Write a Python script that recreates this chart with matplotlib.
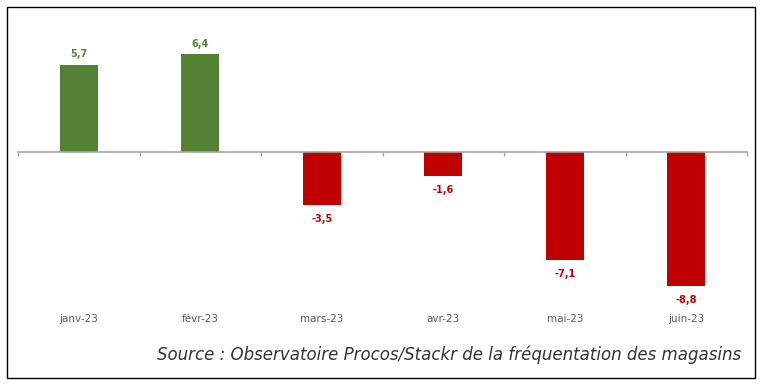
import matplotlib.pyplot as plt
from matplotlib.patches import Rectangle
from matplotlib.transforms import blended_transform_factory

months = ["janv-23", "févr-23", "mars-23", "avr-23", "mai-23", "juin-23"]
values = [5.7, 6.4, -3.5, -1.6, -7.1, -8.8]
labels = ["5,7", "6,4", "-3,5", "-1,6", "-7,1", "-8,8"]
source = "Source : Observatoire Procos/Stackr de la fréquentation des magasins"

green = "#548235"
red = "#C00000"

W, H = 768, 387
fig = plt.figure(figsize=(W / 100, H / 100), dpi=100)

# cadre extérieur
fig.patches.append(Rectangle((7 / W, 1 - 378 / H), 748 / W, 371 / H,
                             transform=fig.transFigure, fill=False,
                             edgecolor="black", linewidth=1.0))

# zéro à y=152px, ~15.26 px par unité
ppu = 15.26
ymin, ymax = -11, 8
top_px = 152 - ymax * ppu
bot_px = 152 - ymin * ppu
ax = fig.add_axes([18 / W, 1 - bot_px / H, (747 - 18) / W, (bot_px - top_px) / H])
ax.set_ylim(ymin, ymax)
ax.set_xlim(-0.5, len(months) - 0.5)

x = range(len(months))
colors = [green if v > 0 else red for v in values]
ax.bar(x, values, width=0.31, color=colors, zorder=2)

for i, (v, lab) in enumerate(zip(values, labels)):
    if v > 0:
        ax.annotate(lab, (i, v), xytext=(0, 4), textcoords="offset points",
                    ha="center", va="bottom", fontsize=7, fontweight="bold",
                    color=green)
    else:
        ax.annotate(lab, (i, v), xytext=(0, -6), textcoords="offset points",
                    ha="center", va="top", fontsize=7, fontweight="bold",
                    color=red)

for s in ["top", "right", "left"]:
    ax.spines[s].set_visible(False)
ax.spines["bottom"].set_position(("data", 0))
ax.spines["bottom"].set_color("#A6A6A6")
ax.spines["bottom"].set_linewidth(1.2)
ax.set_yticks([])
ax.set_xticks([i - 0.5 for i in range(len(months) + 1)])
ax.set_xticklabels([])
ax.tick_params(axis="x", direction="out", length=3, color="#A6A6A6", width=1)
ax.patch.set_alpha(0)

trans = blended_transform_factory(ax.transData, fig.transFigure)
for i, m in enumerate(months):
    ax.text(i, 1 - 319 / H, m, transform=trans, ha="center", va="center",
            fontsize=7.5, color="#595959")

fig.text(741 / W, 1 - 355 / H, source, ha="right", va="center",
         fontsize=12, style="italic", color="#333333")

fig.savefig("out.png", dpi=100)
